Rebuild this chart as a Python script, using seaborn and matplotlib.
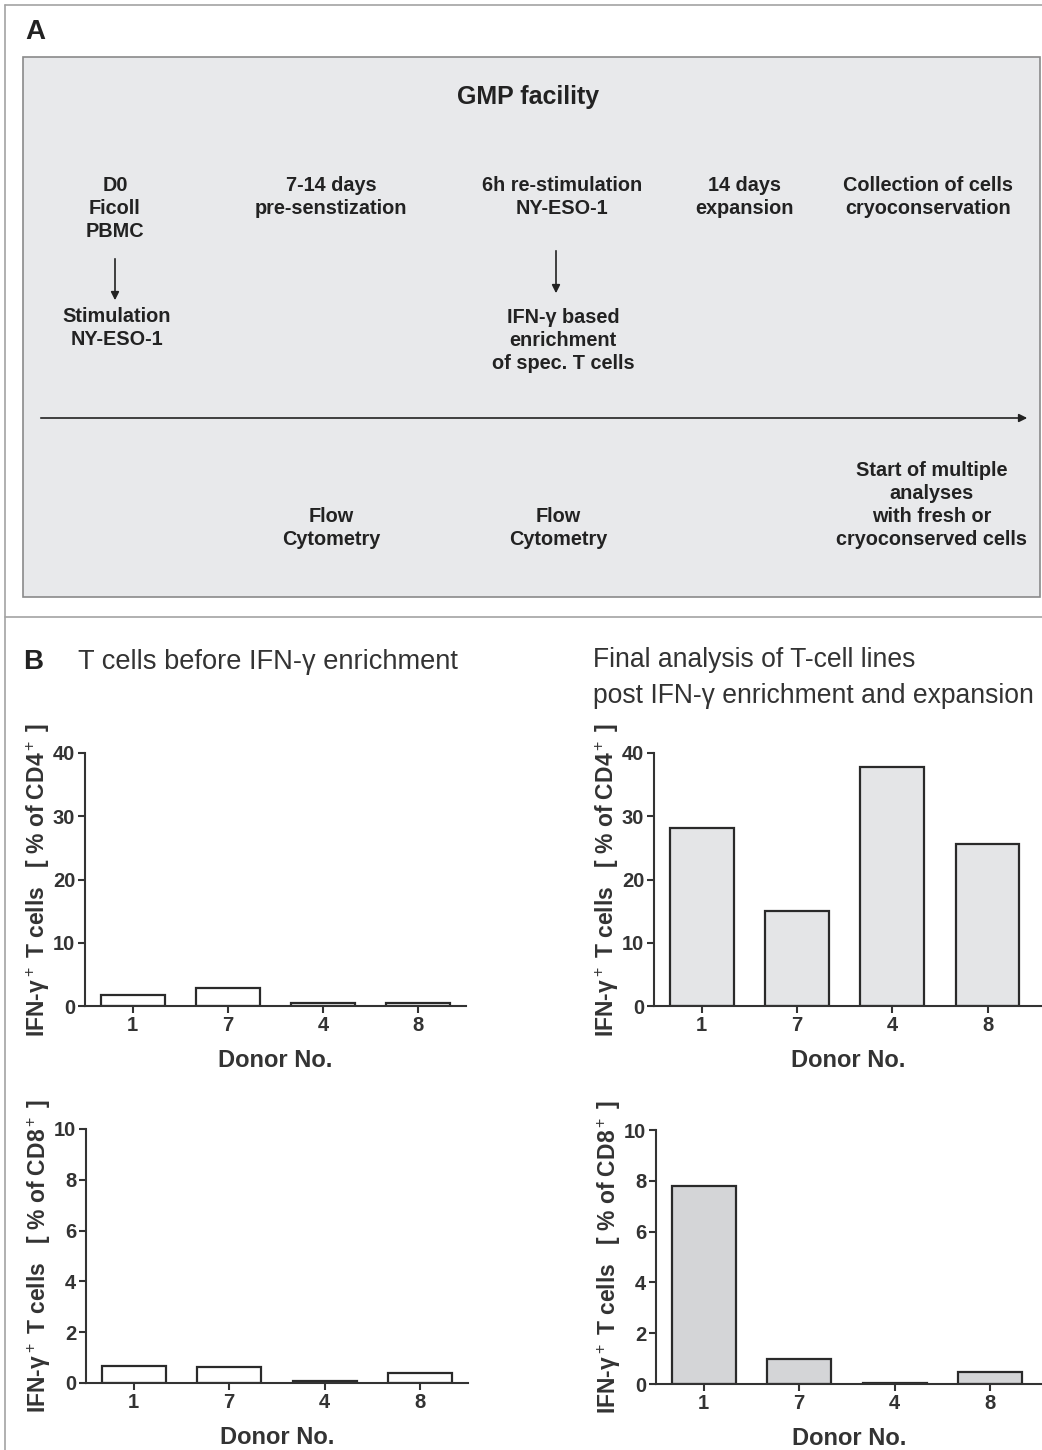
import matplotlib
matplotlib.use("Agg")
import matplotlib.pyplot as plt
from matplotlib.patches import Rectangle
import pandas as pd
import seaborn as sns

# Data
donors = ['1', '7', '4', '8']
cd4_before = [1.7, 2.8, 0.4, 0.4]
cd4_after = [28.1, 15.0, 37.8, 25.6]
cd8_before = [0.67, 0.63, 0.08, 0.40]
cd8_after = [7.8, 0.98, 0.03, 0.47]

title_before = "T cells before IFN-γ enrichment"
title_after = "Final analysis of T-cell lines\npost IFN-γ enrichment and expansion"
ylab_cd4 = "IFN-γ$^+$ T cells   [ % of CD4$^+$ ]"
ylab_cd8 = "IFN-γ$^+$ T cells   [ % of CD8$^+$ ]"

sns.set_style("ticks")
plt.rcParams['font.family'] = ['Liberation Sans', 'DejaVu Sans']
plt.rcParams['mathtext.fontset'] = 'custom'
plt.rcParams['mathtext.rm'] = 'Liberation Sans'
plt.rcParams['mathtext.it'] = 'Liberation Sans:italic'
plt.rcParams['mathtext.bf'] = 'Liberation Sans:bold'

W, H = 1042, 1450
fig = plt.figure(figsize=(W / 100, H / 100), dpi=100)
fig.patch.set_facecolor('white')

# background layer in pixel coordinates for panel A and frame
bg = fig.add_axes([0, 0, 1, 1], zorder=-1)
bg.set_xlim(0, W)
bg.set_ylim(H, 0)
bg.axis('off')

frame = '#a3a3a3'
bg.plot([5, 5], [5, H], color=frame, lw=1.2)
bg.plot([5, W], [5, 5], color=frame, lw=1.2)
bg.plot([5, W], [617, 617], color=frame, lw=1.2)

bg.add_patch(Rectangle((23, 57), 1017, 540, facecolor='#e8e9eb',
                       edgecolor='#8a8a8a', lw=1.2))

bold = dict(fontweight='bold', ha='center', va='top', fontsize=14.3,
            linespacing=1.27, color='#222222')
bg.text(25, 32, "A", fontsize=20, fontweight='bold', va='center', color='#222222')
bg.text(528, 97, "GMP facility", fontsize=18, fontweight='bold',
        ha='center', va='center', color='#222222')
bg.text(115, 176, "D0\nFicoll\nPBMC", **bold)
bg.text(117, 307, "Stimulation\nNY-ESO-1", **bold)
bg.text(331, 176, "7-14 days\npre-senstization", **bold)
bg.text(562, 176, "6h re-stimulation\nNY-ESO-1", **bold)
bg.text(563, 308, "IFN-γ based\nenrichment\nof spec. T cells", **bold)
bg.text(745, 176, "14 days\nexpansion", **bold)
bg.text(928, 176, "Collection of cells\ncryoconservation", **bold)
bg.text(331, 507, "Flow\nCytometry", **bold)
bg.text(558, 507, "Flow\nCytometry", **bold)
bg.text(932, 461, "Start of multiple\nanalyses\nwith fresh or\ncryoconserved cells", **bold)

arrow = dict(arrowstyle='-|>', color='#222222', lw=1.2, mutation_scale=12)
bg.annotate("", xy=(1030, 418), xytext=(38, 418), arrowprops=arrow)
bg.annotate("", xy=(115, 303), xytext=(115, 256), arrowprops=arrow)
bg.annotate("", xy=(556, 296), xytext=(556, 248), arrowprops=arrow)

bg.text(23, 662, "B", fontsize=20, fontweight='bold', va='center', color='#222222')
bg.text(78, 662, title_before, fontsize=19.6, va='center', color='#333333')
bg.text(593, 678, title_after, fontsize=19.1, va='center', color='#333333',
        linespacing=1.48)


def bar_panel(rect, values, ylim, yticks, fill, ylabel, xmax):
    ax = fig.add_axes(rect)
    ax.set_facecolor('none')
    df = pd.DataFrame({'Donor': donors, 'Value': values})
    sns.barplot(data=df, x='Donor', y='Value', order=donors, color=fill,
                saturation=1, edgecolor='#2a2a2a', linewidth=1.6,
                width=0.67, ax=ax)
    ax.set_xlim(-0.5, xmax)
    ax.set_ylim(*ylim)
    ax.set_yticks(yticks)
    ax.spines['right'].set_visible(False)
    ax.spines['top'].set_visible(False)
    for s in ('left', 'bottom'):
        ax.spines[s].set_linewidth(1.5)
        ax.spines[s].set_color('#333333')
    ax.tick_params(axis='both', direction='out', length=5, width=1.5,
                   color='#333333', labelsize=14.5, labelcolor='#333333', pad=2)
    for lab in ax.get_xticklabels() + ax.get_yticklabels():
        lab.set_fontweight('bold')
    ax.set_xlabel("Donor No.", fontsize=17, fontweight='bold',
                  color='#333333', labelpad=10)
    ax.set_ylabel(ylabel, fontsize=16.5, fontweight='bold',
                  color='#333333', labelpad=1)
    return ax


def frac(l, t, r, b):
    return [l / W, 1 - b / H, (r - l) / W, (b - t) / H]


bar_panel(frac(85, 753, 466, 1006), cd4_before, (0, 40), range(0, 41, 10),
          'white', ylab_cd4, 3.5)
bar_panel(frac(654, 753, W, 1006), cd4_after, (0, 40), range(0, 41, 10),
          '#e4e5e7', ylab_cd4, (W - 654) / 95.3 - 0.5)
bar_panel(frac(86, 1129, 468, 1383), cd8_before, (0, 10), range(0, 11, 2),
          'white', ylab_cd8, 3.5)
bar_panel(frac(656, 1130, W, 1384), cd8_after, (0, 10), range(0, 11, 2),
          '#d4d5d7', ylab_cd8, (W - 656) / 95.5 - 0.5)

fig.savefig('out.png', dpi=100)
